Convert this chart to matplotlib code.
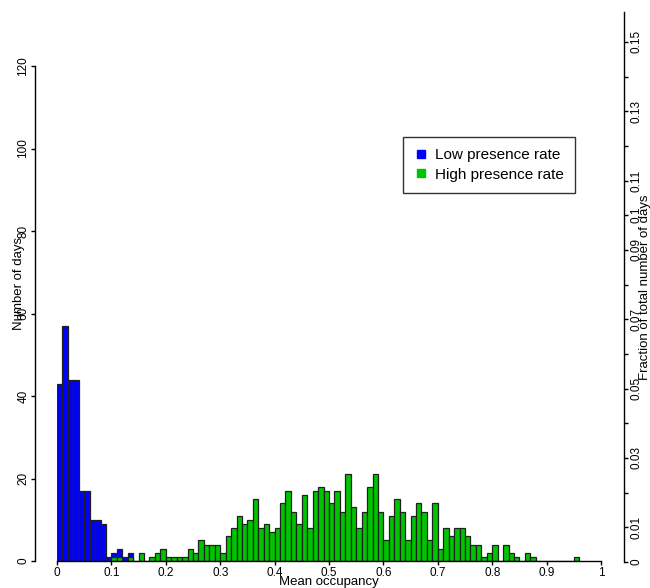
import numpy as np
import matplotlib
matplotlib.use('Agg')
import matplotlib.pyplot as plt
from matplotlib.lines import Line2D

plt.rcParams['font.family'] = ['Liberation Sans', 'DejaVu Sans']

# histogram bins of width 0.01 from 0 to 1
bin_width = 0.01
bin_edges = np.round(np.arange(0, 1.0, bin_width), 2)

# low presence rate counts, bins 0..13
low_counts = [43, 57, 44, 44, 17, 17, 10, 10, 9, 1, 2, 3, 1, 2]

# high presence rate counts, bins 10..95
high_start = 10
high_counts = [1, 1, 0, 1, 0, 2, 0, 1, 2, 3,
               1, 1, 1, 1, 3, 2, 5, 4, 4, 4,
               2, 6, 8, 11, 9, 10, 15, 8, 9, 7,
               8, 14, 17, 12, 9, 16, 8, 17, 18, 17,
               14, 17, 12, 21, 13, 8, 12, 18, 21, 12,
               5, 11, 15, 12, 5, 11, 14, 12, 5, 14,
               3, 8, 6, 8, 8, 6, 4, 4, 1, 2,
               4, 0, 4, 2, 1, 0, 2, 1, 0, 0,
               0, 0, 0, 0, 0, 1]

x_ticks = [0, 0.1, 0.2, 0.3, 0.4, 0.5, 0.6, 0.7, 0.8, 0.9, 1]
x_labels = ['0', '0.1', '0.2', '0.3', '0.4', '0.5', '0.6', '0.7', '0.8', '0.9', '1']
y_ticks = [0, 20, 40, 60, 80, 100, 120]
frac_ticks = [0, 0.01, 0.02, 0.03, 0.04, 0.05, 0.06, 0.07, 0.08, 0.09, 0.1,
              0.11, 0.12, 0.13, 0.14, 0.15]
frac_labels = ['0', '0.01', '', '0.03', '', '0.05', '', '0.07', '', '0.09', '0.1',
               '0.11', '', '0.13', '', '0.15']

blue = '#0000ff'
green = '#00c400'

fig = plt.figure(figsize=(6.5, 5.88), dpi=100)
ax = fig.add_axes([57/650, 27/588, 544/650, 495/588])

low_x = bin_edges[:len(low_counts)]
high_x = bin_edges[high_start:high_start + len(high_counts)]
ax.bar(low_x, low_counts, width=bin_width, align='edge', color=blue,
       edgecolor='#202020', linewidth=0.9)
ax.bar(high_x, high_counts, width=bin_width, align='edge', color=green,
       edgecolor='#202020', linewidth=0.9)

ax.set_xlim(0, 1)
ax.set_ylim(0, 120)
ax.spines['top'].set_visible(False)
ax.spines['right'].set_visible(False)
ax.spines['left'].set_position(('outward', 16))
ax.spines['left'].set_linewidth(1.0)
ax.spines['bottom'].set_linewidth(1.0)
ax.set_xticks(x_ticks)
ax.set_xticklabels(x_labels)
ax.set_yticks(y_ticks)
ax.tick_params(axis='both', direction='out', length=3, width=1.0, labelsize=8.5, pad=1)
for lab in ax.get_yticklabels():
    lab.set_rotation(90)
    lab.set_va('center')
ax.set_xlabel('Mean occupancy', fontsize=9.5)
ax.xaxis.set_label_coords(0.5, -0.03)
ax.set_ylabel('Number of days', fontsize=9.5)
ax.yaxis.set_label_coords(-0.058, 0.56)

# right axis: fraction of total number of days
ax2 = fig.add_axes([600/650, 26/588, 24/650, 550/588])
ax2.patch.set_visible(False)
for s in ['top', 'left', 'bottom']:
    ax2.spines[s].set_visible(False)
ax2.spines['right'].set_linewidth(1.0)
ax2.set_xticks([])
ax2.set_ylim(0, 0.1586)
ax2.yaxis.tick_right()
ax2.set_yticks(frac_ticks)
ax2.set_yticklabels(frac_labels)
ax2.tick_params(axis='y', direction='out', length=3, width=1.0, labelsize=8.5, pad=2)
for lab in ax2.get_yticklabels():
    lab.set_rotation(90)
    lab.set_va('center')
ax2.yaxis.set_label_position('right')
ax2.set_ylabel('Fraction of total number of days', fontsize=9.5)
ax2.yaxis.set_label_coords(1.64, 0.5)

handles = [Line2D([], [], marker='s', linestyle='none', markersize=6,
                  markerfacecolor=blue, markeredgecolor=blue),
           Line2D([], [], marker='s', linestyle='none', markersize=6,
                  markerfacecolor=green, markeredgecolor=green)]
leg = fig.legend(handles, ['Low presence rate', 'High presence rate'],
                 loc='upper left', bbox_to_anchor=(403/650, 1 - 137/588),
                 fontsize=11, frameon=True, fancybox=False, borderaxespad=0,
                 handlelength=0.9, handletextpad=0.45, labelspacing=0.35,
                 borderpad=0.75)
leg.get_frame().set_edgecolor('black')
leg.get_frame().set_linewidth(1.0)

fig.savefig('out.png', dpi=100)
